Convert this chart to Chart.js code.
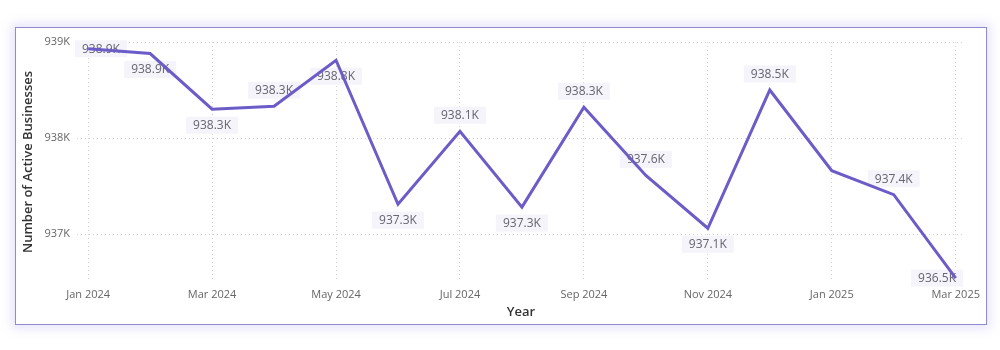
<!DOCTYPE html>
<html>
<head>
<meta charset="utf-8">
<script src="https://cdn.jsdelivr.net/npm/chart.js@4/dist/chart.umd.min.js"></script>
<style>
  html, body { margin: 0; padding: 0; background: #ffffff; }
  #wrap { position: relative; width: 1000px; height: 350px; overflow: hidden; }
  #card {
    position: absolute; left: 15px; top: 27px; width: 970px; height: 296px;
    border: 1.5px solid #8f8bcf; background: #ffffff;
    box-shadow: 0 0 10px 3px rgba(150, 140, 235, 0.25);
  }
  #chart { position: absolute; left: 0; top: 0; }
</style>
</head>
<body>
<div id="wrap">
  <div id="card"></div>
  <canvas id="chart" width="1000" height="350"></canvas>
</div>
<script>
// Monthly count of active businesses
const months = ['Jan 2024', 'Feb 2024', 'Mar 2024', 'Apr 2024', 'May 2024', 'Jun 2024', 'Jul 2024',
                'Aug 2024', 'Sep 2024', 'Oct 2024', 'Nov 2024', 'Dec 2024', 'Jan 2025', 'Feb 2025', 'Mar 2025'];
const activeBusinesses = [938930, 938880, 938300, 938330, 938810, 937310, 938070,
                          937280, 938320, 937610, 937060, 938500, 937660, 937410, 936540];
const xTickLabels = ['Jan 2024', 'Mar 2024', 'May 2024', 'Jul 2024', 'Sep 2024', 'Nov 2024', 'Jan 2025', 'Mar 2025'];
const yTickValues = [937000, 938000, 939000];

const FONT = '"Segoe UI", "Open Sans", sans-serif';
const fmtK = v => (v / 1000).toFixed(1) + 'K';

// Value labels, drawn under the line: a = above the point, b = below, c = centred, '' = hidden
const valueLabels = {
  id: 'valueLabels',
  beforeDatasetsDraw(chart, args, opts) {
    const { ctx, chartArea } = chart;
    const meta = chart.getDatasetMeta(0);
    ctx.save();
    ctx.font = '12px ' + FONT;
    ctx.textAlign = 'center';
    ctx.textBaseline = 'middle';
    meta.data.forEach((pt, i) => {
      const where = opts.placement[i];
      if (!where) return;
      const text = fmtK(chart.data.datasets[0].data[i].y);
      const w = ctx.measureText(text).width + 14;
      const h = 17;
      let cx = pt.x;
      let cy = pt.y + (where === 'a' ? -16 : where === 'b' ? 16 : 0);
      cx = Math.max(chartArea.left - 2 + w / 2, Math.min(chartArea.right - 2 - w / 2, cx));
      ctx.fillStyle = 'rgba(243, 243, 250, 0.95)';
      ctx.fillRect(cx - w / 2, cy - h / 2, w, h);
      ctx.fillStyle = '#666470';
      ctx.fillText(text, cx, cy + 0.5);
    });
    ctx.restore();
  }
};

new Chart(document.getElementById('chart'), {
  type: 'line',
  data: {
    datasets: [{
      data: activeBusinesses.map((v, i) => ({ x: i, y: v })),
      borderColor: '#6b5cc8',
      borderWidth: 3,
      pointRadius: 0,
      tension: 0,
      fill: false
    }]
  },
  options: {
    responsive: false,
    animation: false,
    layout: { padding: { top: 42, right: 35, bottom: 25, left: 0 } },
    plugins: {
      legend: { display: false },
      tooltip: { enabled: false },
      valueLabels: { placement: ['c', 'b', 'b', 'a', 'b', 'b', 'a', 'b', 'a', 'a', 'b', 'a', '', 'a', 'c'] }
    },
    scales: {
      x: {
        type: 'linear',
        min: -0.18,
        max: 14.15,
        afterBuildTicks: axis => { axis.ticks = xTickLabels.map(l => ({ value: months.indexOf(l) })); },
        afterFit: axis => { axis.height = 43; },
        ticks: {
          callback: v => months[v],
          color: '#666666',
          font: { family: FONT, size: 11 },
          padding: 6,
          maxRotation: 0,
          autoSkip: false
        },
        grid: { color: '#d2d2d2', lineWidth: 1, drawTicks: false },
        border: { display: false, dash: [1, 3] },
        title: {
          display: true, text: 'Year', color: '#333333',
          font: { family: FONT, size: 13, weight: '600' },
          padding: { top: 0, bottom: 5 }
        }
      },
      y: {
        min: 936500,
        max: 939000,
        afterBuildTicks: axis => { axis.ticks = yTickValues.map(v => ({ value: v })); },
        afterFit: axis => { axis.width = 77; },
        ticks: {
          callback: v => (v / 1000) + 'K',
          color: '#666666',
          font: { family: FONT, size: 11 },
          padding: 7
        },
        grid: { color: '#d2d2d2', lineWidth: 1, drawTicks: false },
        border: { display: false, dash: [1, 3] },
        title: {
          display: true, text: 'Number of Active Businesses', color: '#333333',
          font: { family: FONT, size: 13, weight: '600' },
          padding: { top: 20, bottom: 0 }
        }
      }
    }
  },
  plugins: [valueLabels]
});
</script>
</body>
</html>
